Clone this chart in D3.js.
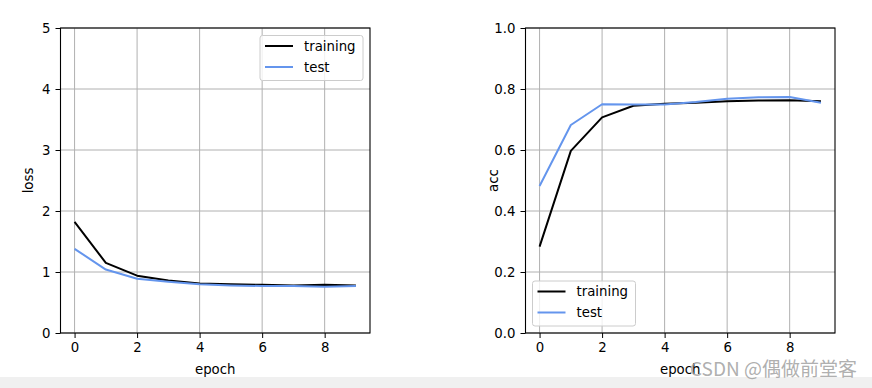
<!DOCTYPE html>
<html>
<head>
<meta charset="utf-8">
<script src="https://cdn.jsdelivr.net/npm/d3@7"></script>
<style>
  html, body { margin: 0; padding: 0; background: #fff; }
  svg { display: block; font-family: "DejaVu Sans", sans-serif; }
</style>
</head>
<body>
<svg id="chart" width="872" height="388"></svg>
<script>
const epochs = [0, 1, 2, 3, 4, 5, 6, 7, 8, 9];
const lossTrain = [1.82, 1.15, 0.94, 0.86, 0.81, 0.80, 0.79, 0.78, 0.79, 0.78];
const lossTest = [1.38, 1.04, 0.89, 0.84, 0.80, 0.78, 0.77, 0.77, 0.76, 0.77];
const accTrain = [0.283, 0.597, 0.707, 0.745, 0.752, 0.755, 0.760, 0.762, 0.763, 0.760];
const accTest = [0.482, 0.682, 0.750, 0.749, 0.749, 0.757, 0.768, 0.773, 0.774, 0.755];
const xTicks = [0, 2, 4, 6, 8];
const lossTicks = [0, 1, 2, 3, 4, 5];
const accTicks = [0, 0.2, 0.4, 0.6, 0.8, 1.0];

const colors = { training: '#000000', test: '#6495ed' };
const svg = d3.select('#chart');

// bottom strip of the page
svg.append('rect')
    .attr('x', 0).attr('y', 377)
    .attr('width', 872).attr('height', 11)
    .attr('fill', '#f0f0f0');

function panel({ left, right, top, bottom, yDomain, yTicks, yFmt, yLabel, train, test, legend }) {
    const x = d3.scaleLinear().domain([-0.45, 9.45]).range([left, right]);
    const y = d3.scaleLinear().domain(yDomain).range([bottom, top]);
    const g = svg.append('g');

    // grid
    g.append('g').selectAll('line.vx')
        .data(xTicks).enter()
        .append('line')
            .attr('x1', d => x(d)).attr('x2', d => x(d))
            .attr('y1', top).attr('y2', bottom)
            .attr('stroke', '#b0b0b0').attr('stroke-width', 1);
    g.append('g').selectAll('line.hy')
        .data(yTicks).enter()
        .append('line')
            .attr('x1', left).attr('x2', right)
            .attr('y1', d => y(d)).attr('y2', d => y(d))
            .attr('stroke', '#b0b0b0').attr('stroke-width', 1);

    const line = d3.line()
        .x((d, i) => x(epochs[i]))
        .y(d => y(d));

    [['training', train], ['test', test]].forEach(([name, values]) => {
        g.append('path')
            .datum(values)
            .attr('d', line)
            .attr('fill', 'none')
            .attr('stroke', colors[name])
            .attr('stroke-width', 2)
            .attr('stroke-linejoin', 'round');
    });

    // axes
    const xAxis = g.append('g')
        .attr('transform', `translate(0,${bottom})`)
        .call(d3.axisBottom(x).tickValues(xTicks).tickSize(5).tickPadding(5).tickFormat(d3.format('d')));
    const yAxis = g.append('g')
        .attr('transform', `translate(${left},0)`)
        .call(d3.axisLeft(y).tickValues(yTicks).tickSize(5).tickPadding(5).tickFormat(yFmt));
    [xAxis, yAxis].forEach(a => {
        a.select('.domain').remove();
        a.selectAll('text').attr('font-size', 13.3).attr('fill', '#000')
            .attr('font-family', '"DejaVu Sans", sans-serif');
        a.selectAll('line').attr('stroke', '#000').attr('stroke-width', 1);
    });

    g.append('rect')
        .attr('x', left).attr('y', top)
        .attr('width', right - left).attr('height', bottom - top)
        .attr('fill', 'none').attr('stroke', '#000').attr('stroke-width', 1.1);

    // labels
    g.append('text')
        .attr('x', (left + right) / 2).attr('y', 374)
        .attr('text-anchor', 'middle').attr('font-size', 13.3)
        .text('epoch');
    g.append('text')
        .attr('transform', `translate(${left - 28},${(top + bottom) / 2}) rotate(-90)`)
        .attr('text-anchor', 'middle').attr('font-size', 13.3)
        .text(yLabel);

    // legend
    const lg = g.append('g').attr('transform', `translate(${legend[0]},${legend[1]})`);
    lg.append('rect')
        .attr('width', 103).attr('height', 45).attr('rx', 2.5)
        .attr('fill', 'rgba(255,255,255,0.8)')
        .attr('stroke', '#cccccc').attr('stroke-width', 1);
    ['training', 'test'].forEach((name, i) => {
        lg.append('line')
            .attr('x1', 5).attr('x2', 33)
            .attr('y1', 10.5 + i * 21).attr('y2', 10.5 + i * 21)
            .attr('stroke', colors[name]).attr('stroke-width', 2);
        lg.append('text')
            .attr('x', 44).attr('y', 15 + i * 21)
            .attr('font-size', 13.3)
            .text(name);
    });
}

panel({
    left: 60.5, right: 370, top: 28, bottom: 333,
    yDomain: [0, 5], yTicks: lossTicks, yFmt: d3.format('d'), yLabel: 'loss',
    train: lossTrain, test: lossTest, legend: [260, 35.5]
});
panel({
    left: 525.5, right: 835, top: 28, bottom: 333,
    yDomain: [0, 1], yTicks: accTicks, yFmt: d3.format('.1f'), yLabel: 'acc',
    train: accTrain, test: accTest, legend: [532.5, 281]
});

// watermark
svg.append('text')
    .attr('x', 857).attr('y', 376)
    .attr('text-anchor', 'end')
    .attr('font-size', 19)
    .attr('font-family', '"Noto Sans CJK SC", "Noto Sans", sans-serif')
    .attr('fill', '#9a9a9a')
    .attr('fill-opacity', 0.8)
    .text('CSDN @偶做前堂客');
</script>
</body>
</html>
